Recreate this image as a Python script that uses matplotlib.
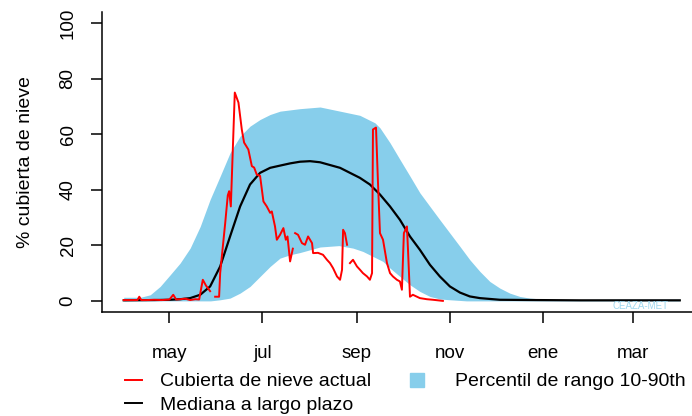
import numpy as np
import matplotlib
matplotlib.use('Agg')
import matplotlib.pyplot as plt
from matplotlib.lines import Line2D

plt.rcParams['font.family'] = ['Liberation Sans', 'DejaVu Sans']

nan = np.nan

# dias desde el 1 de abril
meses_dia = [30, 91, 153, 214, 275, 334]
meses = ['may', 'jul', 'sep', 'nov', 'ene', 'mar']

# percentil 90 (borde superior de la banda)
p90_dia = [0, 11, 17.4, 23.9, 30.5, 37, 43.6, 50.2, 56.7, 63.3, 69.8, 76.4, 82.9, 89.5,
           96.1, 102.6, 115.7, 128.9, 142, 155, 164.9, 168.2, 174.8, 181.3, 187.9, 194.4,
           201, 207.5, 214.1, 220.7, 227.2, 233.8, 240.3, 246.9, 253.4, 260, 266.6,
           279.7, 300, 330, 365]
p90 = [1.3, 1.3, 2.2, 5.2, 9.4, 13.6, 19, 26.8, 36.5, 44.9, 53.3, 59.3, 62.9, 65.3,
       67.1, 68.3, 69.2, 69.8, 68.3, 66.8, 64.1, 62.3, 56.9, 50.9, 44.9, 38.9,
       34, 29.2, 24.4, 19.6, 14.8, 10.6, 7, 4.6, 2.8, 1.6, 1,
       0.5, 0.5, 0.6, 0.6]

# percentil 10 (borde inferior de la banda)
p10_dia = [0, 30, 57, 63.3, 69.8, 76.4, 82.9, 89.5, 96.1, 102.6, 109.2, 115.7, 122.3,
           128.9, 141.3, 150.5, 157, 163.6, 170.2, 174.8, 181.3, 187.9, 194.4, 201,
           207.5, 214.1, 225, 365]
p10 = [0, 0, 0, 0.4, 1, 2.8, 5.2, 8.8, 12.4, 15.4, 16.6, 17.4, 18.4,
       19.4, 19.9, 19, 17.8, 16, 14.2, 11.8, 8.8, 5.8, 3.4, 1.6,
       0.7, 0.4, 0, 0]

# mediana a largo plazo
med_dia = [0, 20, 30, 37, 43.6, 50.2, 56.7, 63.3, 69.8, 76.4, 82.9, 89.5, 96.1, 102.6,
           109.2, 115.7, 122.3, 128.9, 142, 155, 161.6, 168.2, 174.8, 181.3, 187.9,
           194.4, 201, 207.5, 214.1, 220.7, 227.2, 233.8, 246.9, 270, 300, 365]
mediana = [0.2, 0.3, 0.4, 0.6, 1, 2.2, 5.2, 12.4, 23.2, 34, 41.9, 46.1, 47.9, 48.7,
           49.5, 50.1, 50.3, 49.9, 47.9, 44.3, 41.9, 38.3, 34, 29.2, 23.2,
           18.4, 13, 8.8, 5.2, 3, 1.6, 1, 0.4, 0.3, 0.2, 0.2]

# cubierta de nieve actual
act_dia = [0, 5, 9, 10.2, 11.5, 15, 20, 25, 30, 32.5, 34.4, 37, 40.3, 43.6, 47, 49.5,
           51.9, 54, 56.7, 58, 60, 62.6, 63.3, 66.6, 68.3, 69.2, 70.3, 72.9, 75.3, 77.5,
           79, 81.8, 84.1, 85.6, 87.3, 89.5, 91.7, 93.9, 96.1, 97.2, 99.3, 100.5, 102.6,
           104.8, 106.4, 107.5, 109.2, 111, 111.8, 112.5, 114.4, 117, 119, 121, 123.6,
           124.3, 127.5, 130.8, 133.4, 135.4, 137.4, 140, 142, 143.3, 144, 145.2, 146.6,
           147.5, 148.5, 150.5, 153.1, 155.1, 157, 159.7, 161.6, 163, 163.6, 165.6, 166.9,
           168.2, 170.2, 172.8, 174.8, 176.7, 179.3, 181.3, 182.6, 183.9, 185.9, 186.6,
           187.9, 189.8, 194.4, 199, 203, 209.5]
actual = [0.3, 0.3, 0.3, 1.5, 0.3, 0.3, 0.4, 0.3, 0.5, 2.2, 0.5, 0.6, 0.8, 0.3, 0.6, 0.5,
          7.6, 5.5, 3.5, nan, 1.5, 1.5, 10, 28, 38, 39.5, 34, 75, 71.4, 61.7,
          57, 54.5, 48.5, 48, 45.5, 45, 35.8, 34, 31.7, 32.2, 26.8, 22, 23.8,
          26.2, 22, 23.2, 14.2, 18.8, nan, 24.4, 23.8, 20.8, 20.2, 23.2, 20.8,
          17.2, 17.3, 16.6, 14.8, 13.6, 11.8, 8.8, 7.6, 11.2, 25.6, 24.4, 20.2,
          nan, 13.6, 14.8, 12.4, 11.2, 10, 8.8, 7.6, 10, 61.7, 62.4, 42.5,
          24.4, 22, 13.6, 10, 8.8, 7.6, 7, 4, 24.4, 26.8, 18.4,
          1.5, 2.2, 1, 0.6, 0.4, 0]

fig = plt.figure(figsize=(6.92, 4.16), dpi=100)
ax = fig.add_axes([101.5 / 692, 104 / 416, 600.5 / 692, 300 / 416])

# banda 10-90: rellenar entre los dos bordes
dias = np.union1d(p90_dia, p10_dia)
ax.fill_between(dias, np.interp(dias, p10_dia, p10), np.interp(dias, p90_dia, p90),
                color='skyblue', lw=0)
ax.plot(med_dia, mediana, color='black', lw=1.6)
ax.plot(act_dia, actual, color='red', lw=1.4)

ax.set_xlim(-14.6, 379.6)
ax.set_ylim(-4, 104)
ax.spines['top'].set_visible(False)
ax.spines['right'].set_visible(False)
ax.spines['left'].set_linewidth(1.1)
ax.spines['bottom'].set_linewidth(1.1)

ax.set_xticks(meses_dia)
ax.set_xticklabels(meses)
ax.set_yticks([0, 20, 40, 60, 80, 100])
ax.tick_params(axis='both', direction='out', length=8, width=1.1, labelsize=13.5)
ax.tick_params(axis='x', pad=16)
ax.tick_params(axis='y', pad=10, labelrotation=90)
for lbl in ax.get_yticklabels():
    lbl.set_va('center')

ax.set_ylabel('% cubierta de nieve', fontsize=14)
ax.yaxis.set_label_coords(-0.113, 0.5)

ax.text(0.897, 0.02, 'CEAZA-MET', transform=ax.transAxes, ha='center', va='center',
        fontsize=7, color='#9fd8ef')

h1 = [Line2D([], [], color='red', lw=1.4), Line2D([], [], color='black', lw=1.4)]
fig.legend(h1, ['Cubierta de nieve actual', 'Mediana a largo plazo'],
           loc='upper left', bbox_to_anchor=(125 / 692, 0.104), frameon=False,
           fontsize=14, borderpad=0, borderaxespad=0, handlelength=0.88,
           handletextpad=0.93, labelspacing=0.3)
h2 = [Line2D([], [], color='skyblue', marker='s', markersize=10, lw=0)]
fig.legend(h2, ['Percentil de rango 10-90th'],
           loc='upper left', bbox_to_anchor=(407.5 / 692, 0.104), frameon=False,
           fontsize=14, borderpad=0, borderaxespad=0, handlelength=1.0,
           handletextpad=1.45)

fig.savefig('out.png', dpi=100)
